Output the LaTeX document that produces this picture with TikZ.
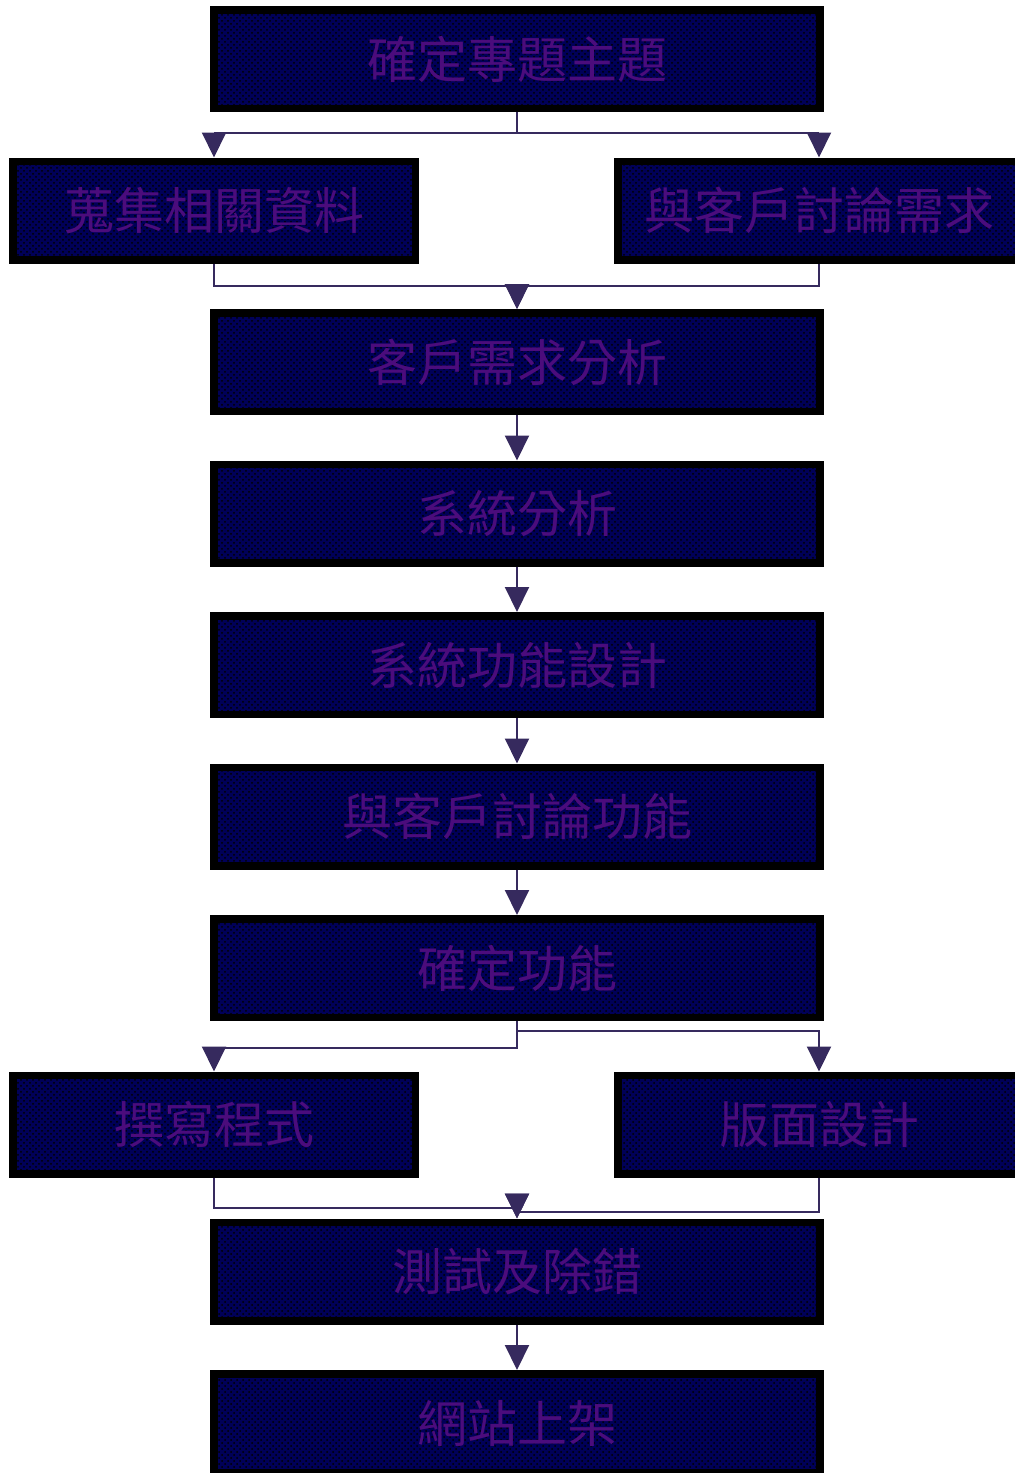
\documentclass[tikz,border=0pt]{standalone}
\usepackage{fontspec}
\newfontfamily\cjk{Noto Sans CJK TC}
\usepackage{tikz}
\usetikzlibrary{
	positioning,
	arrows.meta,
	patterns
}
\definecolor{boxfill}{HTML}{000058}
\definecolor{boxtext}{HTML}{4B0C7C}
\definecolor{flowline}{HTML}{362A5E}

\tikzset{
	task/.style={draw=black, line width=3.75pt, fill=boxfill,
		postaction={pattern=crosshatch dots, pattern color=black},
		text=boxtext, font=\cjk\fontsize{25}{30}\selectfont,
		minimum width=303pt, minimum height=49.25pt, inner sep=0pt},
	side/.style={task, minimum width=201.25pt},
	flow/.style={draw=flowline, line width=1pt,
		-{Triangle[length=12.5pt,width=12pt]}}
}

\begin{document}
\begin{tikzpicture}[node distance=75.75pt]
		\useasboundingbox (0,0) rectangle (507.5pt,-736.5pt);
		\draw
			node[task] (topic) at (258.5pt,-29.5pt)          {確定專題主題}
			node[side,below of=topic,xshift=-151.5pt]         (collect)  {蒐集相關資料}
			node[side,below of=topic,xshift=151pt]            (discuss)  {與客戶討論需求}
			node[task,below of=collect,xshift=151.5pt]        (analysis) {客戶需求分析}
			node[task,below of=analysis]                      (sysana)   {系統分析}
			node[task,below of=sysana]                        (design)   {系統功能設計}
			node[task,below of=design]                        (review)   {與客戶討論功能}
			node[task,below of=review]                        (confirm)  {確定功能}
			node[side,below of=confirm,xshift=-151.5pt,yshift=-2.5pt] (coding) {撰寫程式}
			node[side,below of=confirm,xshift=151pt,yshift=-2.5pt]    (layout) {版面設計}
			node[task,below of=coding,xshift=151.5pt,yshift=2.25pt]   (test)   {測試及除錯}
			node[task,below of=test]                          (launch)   {網站上架}
		;

		\draw[flow] (topic.south) -- ++(0,-10.5pt) -| (collect.north);
		\draw[flow] (topic.south) -- ++(0,-10.5pt) -| (discuss.north);
		\draw[flow] (collect.south) -- ++(0,-11pt) -| (analysis.north);
		\draw[flow] (discuss.south) -- ++(0,-11pt) -| (analysis.north);
		\draw[flow] (analysis) -- (sysana);
		\draw[flow] (sysana) -- (design);
		\draw[flow] (design) -- (review);
		\draw[flow] (review) -- (confirm);
		\draw[flow] (confirm.south) -- ++(0,-13.5pt) -| (coding.north);
		\draw[flow] (confirm.south) -- ++(0,-5pt) -| (layout.north);
		\draw[flow] (coding.south) -- ++(0,-15pt) -| (test.north);
		\draw[flow] (layout.south) -- ++(0,-17pt) -| (test.north);
		\draw[flow] (test) -- (launch);
	\end{tikzpicture}
\end{document}
